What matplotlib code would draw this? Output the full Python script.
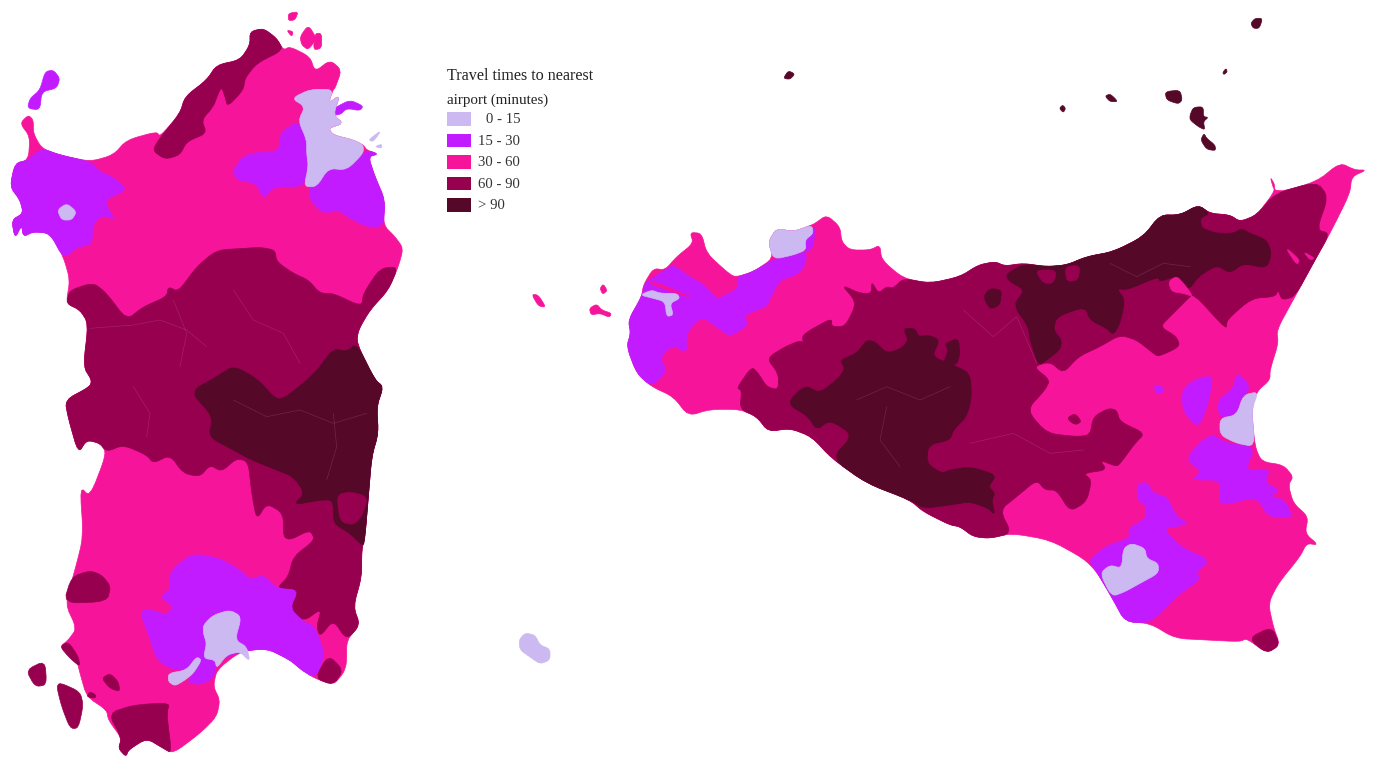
import matplotlib
matplotlib.use('Agg')
import matplotlib.pyplot as plt
from matplotlib.patches import Polygon, Rectangle

def crop(x0, y0, pts):
    return [(x0 + p[0] / 3.0, y0 + p[1] / 3.0) for p in pts]

def sa(pts):
    return crop(0, 0, pts)

def sb(pts):
    return crop(0, 380, pts)

def si(pts):
    return crop(510, 200, pts)

def se(pts):
    return crop(950, 150, pts)

def eo(pts):
    return crop(770, 0, pts)

# cut the corners so the traced outlines are not so angular
def soften(pts, rounds=2, r=0.2):
    for _ in range(rounds):
        out = []
        for i in range(len(pts)):
            a = pts[i]
            b = pts[(i + 1) % len(pts)]
            out.append((a[0] + r * (b[0] - a[0]), a[1] + r * (b[1] - a[1])))
            out.append((b[0] - r * (b[0] - a[0]), b[1] - r * (b[1] - a[1])))
        pts = out
    return pts

legend_title = ['Travel times to nearest', 'airport (minutes)']
classes = ['0 - 15', '15 - 30', '30 - 60', '60 - 90', '> 90']
colors = ['#CDB9F2', '#C31BFF', '#F5149A', '#96004F', '#560829']

# ---- Sardinia
sard_land = sa([(850,150),(870,140),(930,170),(945,215),(990,180),(1025,210),(1005,265),(1000,268),(985,310),(1020,285),(1000,345),(1030,370),(985,385),(1000,405),(1060,420),(1090,435),(1100,450),(1135,462),(1105,470),(1125,530),(1155,600),(1150,675),(1185,710),(1210,745),(1195,800),(1165,870),(1110,930),(1075,990),(1070,1030),(1125,1140)]) \
    + sb([(1150,20),(1130,80),(1135,160),(1115,230),(1105,350),(1095,470),(1085,510),(1085,590),(1060,680),(1080,735),(1040,780),(1040,850),(1030,880),(1000,915),(945,895),(905,870),(870,840),(800,805),(720,815),(650,870),(640,920),(660,960),(650,1010),(600,1060),(520,1120),(490,1105),(440,1075),(385,1110),(378,1130),(355,1105),(365,1075),(325,1020),(320,990),(260,950),(240,880),(230,840),(205,820),(180,800),(205,780),(230,745),(195,670),(225,570),(250,470),(240,320),(270,350),(320,220),(300,190),(260,180),(235,220),(205,115),(195,60),(270,20),(275,0)]) \
    + sa([(250,1100),(265,970),(240,930),(198,910),(210,840),(190,770),(150,700),(100,695),(70,710),(65,675),(45,715),(35,660),(70,640),(60,600),(30,560),(45,490),(85,480),(90,410),(60,370),(85,345),(100,360),(100,400),(125,445),(180,465),(270,485),(340,465),(380,420),(470,395),(480,410),(540,340),(555,290),(620,240),(650,195),(720,180),(750,135),(750,95),(790,85),(830,115)])
sard_maddalena = [
    sa([(865,40),(895,35),(885,60),(865,62)]),
    sa([(860,90),(880,95),(875,110)]),
    sa([(900,110),(925,75),(950,115),(925,150),(905,135)]),
    sa([(945,100),(965,100),(965,145),(940,150)]),
]
sard_mid = [
    sa([(198,910),(210,870),(280,848),(320,880),(380,960),(430,920),(500,890),(505,860),(535,875),(590,800),(650,750),(735,745),(780,742),(825,750),(830,785),(880,820),(925,840),(960,880),(1000,880),(1085,920),(1090,880),(1140,805),(1195,800),(1165,870),(1110,930),(1075,990),(1070,1030),(1125,1140)])
    + sb([(1150,20),(1130,80),(1135,160),(1115,230),(1105,350),(1095,470),(1085,510),(1085,590),(1060,680),(1080,735),(1040,780),(1000,720),(960,770),(950,740),(965,685),(910,725),(870,685),(895,630),(830,625),(865,590),(880,530),(945,480),(930,450),(870,480),(850,470),(850,400),(800,370),(770,420),(755,340),(745,245),(710,235),(665,275),(630,255),(600,290),(550,280),(510,225),(460,250),(440,225),(370,195),(320,215),(300,190),(260,180),(235,220),(205,115),(195,60),(270,20),(275,0)])
    + sa([(250,1100),(265,970),(240,930)]),
    sa([(475,420),(458,452),(495,478),(540,465),(560,425),(620,400),(605,360),(640,320),(655,280),(665,262),(675,290),(683,320),(730,270),(735,235),(770,190),(850,150),(830,115),(790,85),(750,95),(750,135),(720,180),(650,195),(620,240),(555,290),(540,340)]),
    sb([(190,670),(215,590),(270,572),(305,585),(333,620),(320,665)]),
    sb([(180,800),(205,785),(235,830),(240,860),(210,835)]),
    sb([(305,895),(330,880),(355,905),(360,935),(330,925)]),
    sb([(170,920),(180,908),(240,935),(250,975),(235,1045),(210,1045),(185,980)]),
    sb([(78,870),(135,842),(140,915),(105,920)]),
    sb([(260,950),(270,935),(288,945),(285,955)]),
    sb([(325,1000),(400,975),(510,968),(500,1000),(515,1120),(490,1105),(440,1075),(385,1110),(378,1130),(355,1105),(365,1075)]),
    sb([(985,825),(1030,870),(1000,915),(945,895)]),
]
sard_dark = [
    sb([(570,35),(650,-10),(700,-43),(770,-5),(830,60),(860,50),(945,-20),(1000,-95),(1040,-85),(1070,-110),(1125,0),(1150,20),(1130,80),(1135,160),(1115,230),(1105,350),(1095,470),(1090,500),(1050,460),(1000,430),(1000,360),(960,360),(880,375),(915,340),(880,290),(830,270),(755,240),(700,210),(625,170),(640,110)]),
]
sard_mid_top = [sb([(1010,345),(1050,335),(1105,350),(1085,410),(1060,435),(1020,425)])]
sard_purple = [
    sa([(85,480),(125,445),(180,465),(270,485),(300,515),(345,535),(382,570),(310,600),(345,660),(310,645),(280,670),(275,735),(235,740),(190,775),(150,700),(100,695),(70,710),(65,675),(45,715),(35,660),(70,640),(60,600),(30,560),(45,490)]),
    sa([(135,215),(160,210),(180,235),(170,265),(125,275),(120,330),(82,325),(90,295),(120,270)]),
    sa([(698,510),(740,460),(838,455),(840,400),(895,362),(920,420),(920,460),(925,500),(912,560),(820,560),(790,597),(770,550),(710,540)]),
    sa([(975,345),(1010,320),(1050,300),(1090,318),(1080,332),(1040,325),(1020,345)]),
    sa([(928,560),(985,505),(1040,510),(1100,450),(1135,462),(1105,470),(1125,530),(1155,600),(1150,680),(1100,680),(1050,655),(1015,630),(970,640),(930,600)]),
    sb([(510,575),(575,520),(660,535),(720,570),(750,600),(790,585),(830,625),(895,630),(870,685),(910,725),(945,740),(975,825),(945,895),(905,870),(870,840),(800,805),(720,815),(660,840),(645,865),(640,895),(600,915),(560,905),(590,870),(520,870),(470,840),(445,760),(420,700),(440,685),(500,705),(520,680),(480,650),(510,630)]),
]
sard_lilac = [
    sa([(875,295),(930,268),(1000,268),(985,310),(1020,285),(1000,345),(1030,370),(985,385),(1000,405),(1060,420),(1090,435),(1090,460),(1040,510),(985,505),(950,560),(912,560),(925,500),(920,460),(920,420),(895,362),(915,320)]),
    sa([(172,630),(200,610),(230,635),(215,660),(185,660)]),
    sa([(1105,420),(1145,390),(1120,425)]),
    sa([(1125,440),(1145,432),(1145,445)]),
    sb([(610,735),(640,705),(690,690),(725,710),(705,780),(740,800),(750,845),(720,815),(680,825),(650,865),(645,840),(610,835),(620,790),(610,760)]),
    sb([(505,880),(560,870),(590,830),(605,840),(580,880),(555,900),(525,918),(505,905)]),
]

# ---- Sicily
sic_land = si([(400,255),(430,205),(465,210),(500,170),(550,130),(540,97),(575,100),(590,160),(650,215),(675,232),(730,215),(790,175),(775,125),(800,85),(850,95),(905,75),(915,70),(950,45),(990,80),(995,125),(1020,150),(1080,150),(1110,135),(1115,180),(1180,235),(1260,250),(1350,230)]) \
    + se([(85,345),(135,335),(165,348),(220,340),(290,350),(350,345),(410,320),(490,305),(580,260),(630,195),(690,195),(745,165),(780,190),(840,195),(870,215),(920,195),(970,130),(975,105),(960,80),(975,130),(1100,95),(1170,38),(1215,60),(1250,60),(1205,80),(1200,130),(1140,250),(1095,330),(1035,440),(980,540),(985,580),(960,660),(960,690),(920,725),(905,780),(915,890),(935,935),(1000,945),(1030,980),(1015,1005),(1030,1060),(1075,1100),(1065,1150),(1105,1185),(1070,1180),(1050,1220),(985,1300),(955,1360),(970,1430),(990,1485),(950,1510),(890,1465),(870,1475),(770,1470),(675,1465),(600,1420),(525,1415),(490,1350),(440,1265),(400,1225),(300,1170),(185,1150),(120,1165),(70,1160),(30,1130),(0,1125)]) \
    + si([(1240,935),(1200,900),(1070,850),(965,775),(905,710),(840,685),(775,695),(740,650),(690,628),(600,628),(535,648),(490,590),(425,560),(380,520),(350,440),(362,400),(355,360),(395,290)])
sic_egadi = [
    si([(65,283),(85,285),(108,322),(85,318)]),
    si([(270,265),(280,252),(292,272),(278,283)]),
    si([(238,325),(260,312),(275,330),(305,340),(298,352),(270,340),(243,345)]),
]
sic_mid = [
    si([(1180,235),(1150,265),(1130,260),(1105,280),(1085,245),(1085,280),(1050,280),(995,255),(1030,295),(1035,320),(1005,380),(965,380),(965,355),(900,390),(875,410),(885,440),(875,420),(825,440),(770,475),(805,520),(805,570),(770,560),(745,520),(725,500),(680,565),(695,570),(690,628),(740,650),(775,695),(840,685),(905,710),(965,775),(1070,850),(1200,900),(1240,935)])
    + se([(0,1125),(30,1130),(70,1160),(120,1165),(185,1150),(150,1080),(200,1040),(260,990),(285,1020),(320,1020),(360,1085),(410,1055),(425,990),(400,970),(470,960),(450,930),(500,950),(515,935),(555,880),(585,850),(510,815),(500,780),(475,775),(430,800),(420,855),(380,860),(290,850),(230,780),(285,720),(300,690),(250,650),(300,635),(340,670),(385,620),(450,590),(510,555),(560,570),(610,610),(625,620),(690,590),(680,560),(630,530),(665,495),(710,450),(730,430),(830,540),(830,510),(905,445),(975,440),(985,420),(995,450),(1035,440),(1095,330),(1140,250),(1100,240),(1135,140),(1100,95),(975,130),(920,195),(870,215),(840,195),(780,190),(745,165),(690,195),(630,195),(580,260),(490,305),(410,320),(350,345),(290,350),(220,340),(165,348),(135,335),(85,345)])
    + si([(1350,230),(1260,250)]),
    se([(895,1465),(965,1430),(990,1485),(950,1510)]),
]
sic_dark = [
    se([(165,375),(220,342),(290,350),(350,345),(410,320),(490,305),(580,260),(630,195),(690,195),(745,165),(780,190),(750,205),(755,235),(800,250),(850,250),(875,235),(900,250),(950,270),(965,310),(950,355),(880,340),(840,370),(800,345),(745,380),(720,415),(700,410),(670,380),(630,395),(625,380),(530,420),(500,415),(525,450),(510,520),(490,555),(470,535),(420,510),(405,470),(320,500),(310,540),(335,570),(330,600),(270,645),(260,630),(240,570),(235,530),(190,465),(225,420),(180,395)]),
    se([(100,440),(120,415),(155,420),(150,465),(120,478)]),
    si([(830,610),(885,555),(930,580),(990,530),(1005,505),(990,480),(1040,460),(1070,420),(1095,425),(1130,460),(1175,445),(1195,420),(1180,385),(1215,385),(1225,410),(1255,405),(1290,420),(1265,470),(1330,495)])
    + se([(60,670),(65,740),(50,800),(10,840),(0,870)])
    + si([(1255,735),(1250,790),(1295,820),(1320,810)])
    + se([(0,960),(60,950),(140,975),(115,1010),(135,1030),(125,1050),(135,1095),(115,1075),(60,1055),(0,1065)])
    + si([(1240,925),(1200,900),(1070,850),(965,775),(1030,705),(960,660),(920,690),(895,650)]),
    si([(1305,430),(1345,415),(1350,460),(1340,495),(1300,490),(1315,450)]),
]
sic_mid_top = [
    se([(255,360),(320,360),(310,400),(280,400)]),
    se([(345,350),(390,345),(385,390),(350,395)]),
    se([(350,805),(375,790),(395,815),(375,825)]),
]
sic_pink_top = [
    se([(655,395),(680,378),(705,405),(730,440),(700,430),(665,425)]),
    se([(1005,290),(1050,330),(1040,345)]),
    se([(1060,305),(1095,325),(1080,330)]),
]
sic_purple = [
    si([(395,290),(355,360),(362,400),(350,440),(380,520),(425,560),(470,515),(450,470),(490,435),(530,460),(530,395),(575,350),(620,380),(660,410),(715,375),(700,345),(770,320),(780,295),(810,240),(860,225),(890,190),(885,120),(915,70),(910,150),(850,165),(790,178),(730,215),(680,232),(685,265),(620,300),(590,260),(530,225),(490,195),(465,210),(420,240),(405,250)]),
    se([(695,725),(730,690),(790,675),(775,760),(745,835),(700,785)]),
    se([(805,750),(850,715),(860,670),(885,690),(900,715),(870,750),(860,795),(825,805),(805,790)]),
    se([(610,710),(630,705),(645,720),(625,735)]),
    se([(705,925),(780,850),(830,880),(915,890),(885,965),(960,955),(945,1000),(990,1020),(960,1040),(1005,1050),(1030,1105),(955,1100),(920,1040),(805,1070),(815,990),(725,990),(755,965)]),
    se([(415,1230),(475,1185),(540,1165),(535,1135),(590,1105),(585,1060),(565,1055),(560,1005),(590,995),(610,1030),(650,1040),(680,1100),(715,1120),(680,1130),(640,1135),(690,1190),(780,1230),(740,1265),(750,1290),(690,1330),(600,1420),(525,1415),(490,1350),(440,1265)]),
]
sic_spit = [si([(415,245),(450,250),(550,295),(500,280),(430,255)])]
pantelleria = [(519,640),(525,633),(535,635),(540,645),(550,649),(550,660),(540,664),(530,657),(520,650)]
sic_lilac = [
    si([(390,285),(425,270),(450,280),(500,280),(510,295),(480,310),(490,345),(470,350),(465,305),(430,295)]),
    si([(775,125),(800,85),(850,95),(905,75),(910,100),(885,120),(888,150),(850,165),(790,178)]),
    se([(810,805),(860,795),(880,735),(925,725),(905,780),(915,890),(860,880),(810,855)]),
    se([(450,1270),(480,1245),(515,1255),(520,1195),(545,1180),(585,1195),(590,1225),(625,1240),(625,1270),(570,1300),(525,1325),(485,1340)]),
    pantelleria,
]
eolie = [
    eo([(40,235),(55,212),(75,222),(60,238)]),
    eo([(868,325),(878,315),(887,325),(880,338)]),
    eo([(1005,288),(1020,282),(1035,295),(1042,305),(1020,305)]),
    eo([(1185,275),(1230,270),(1237,300),(1225,312),(1190,300)]),
    eo([(1260,345),(1270,322),(1300,320),(1300,350),(1315,352),(1300,365),(1305,390),(1285,380),(1260,360)]),
    eo([(1292,420),(1302,400),(1310,415),(1335,435),(1337,452),(1310,448)]),
    eo([(1358,218),(1368,205),(1372,215),(1362,224)]),
    eo([(1442,70),(1455,55),(1478,55),(1468,85),(1450,85)]),
]

# faint municipal borders seen inside the dark classes
border_lines = [
    sa([(270,985),(400,975),(480,960),(560,990),(620,1040)]),
    sa([(700,870),(760,960),(850,1000),(900,1090)]),
    sa([(520,900),(560,1000),(540,1100)]),
    sb([(400,20),(450,100),(440,170)]),
    sb([(700,60),(800,110),(900,90),(1000,130),(1100,100)]),
    sb([(1000,100),(1010,200),(980,300)]),
    se([(480,340),(560,380),(640,340),(720,350)]),
    si([(1040,600),(1130,560),(1230,600),(1320,560)]),
    si([(1130,620),(1110,720),(1170,800)]),
    se([(40,480),(130,560),(200,500),(260,640)]),
    se([(60,880),(190,850),(300,910),(400,900)]),
]

# painter's order, class index then outlines
layers = [
    (2, [sard_land, sic_land] + sard_maddalena + sic_egadi),
    (3, sard_mid + sic_mid),
    (4, sard_dark + sic_dark + eolie),
    (3, sard_mid_top + sic_mid_top),
    (1, sard_purple + sic_purple),
    (2, sic_pink_top + sic_spit),
    (0, sard_lilac + sic_lilac),
]

fig = plt.figure(figsize=(13.85, 7.67), dpi=100)
ax = fig.add_axes([0, 0, 1, 1])
ax.set_xlim(0, 1385)
ax.set_ylim(767, 0)
ax.axis('off')

for idx, outlines in layers:
    for pts in outlines:
        ax.add_patch(Polygon(soften(pts), closed=True, facecolor=colors[idx],
                             edgecolor=colors[idx], linewidth=0.5, joinstyle='round'))

for pts in border_lines:
    ax.plot([p[0] for p in pts], [p[1] for p in pts], color='white', alpha=0.13, linewidth=0.5)

font = 'Liberation Serif'
ax.text(447, 75.5, legend_title[0], family=font, fontsize=11.6, va='center', color='#222222')
ax.text(447, 100, legend_title[1], family=font, fontsize=10.8, va='center', color='#222222')
for i, name in enumerate(classes):
    y = 112 + i * 21.6
    ax.add_patch(Rectangle((447, y), 24, 13.5, facecolor=colors[i], edgecolor='none'))
    tx = 486 if i == 0 else 478
    ax.text(tx, y + 7.5, name, family=font, fontsize=10.6, va='center', color='#333333')

fig.savefig('out.png', dpi=100, facecolor='white')
